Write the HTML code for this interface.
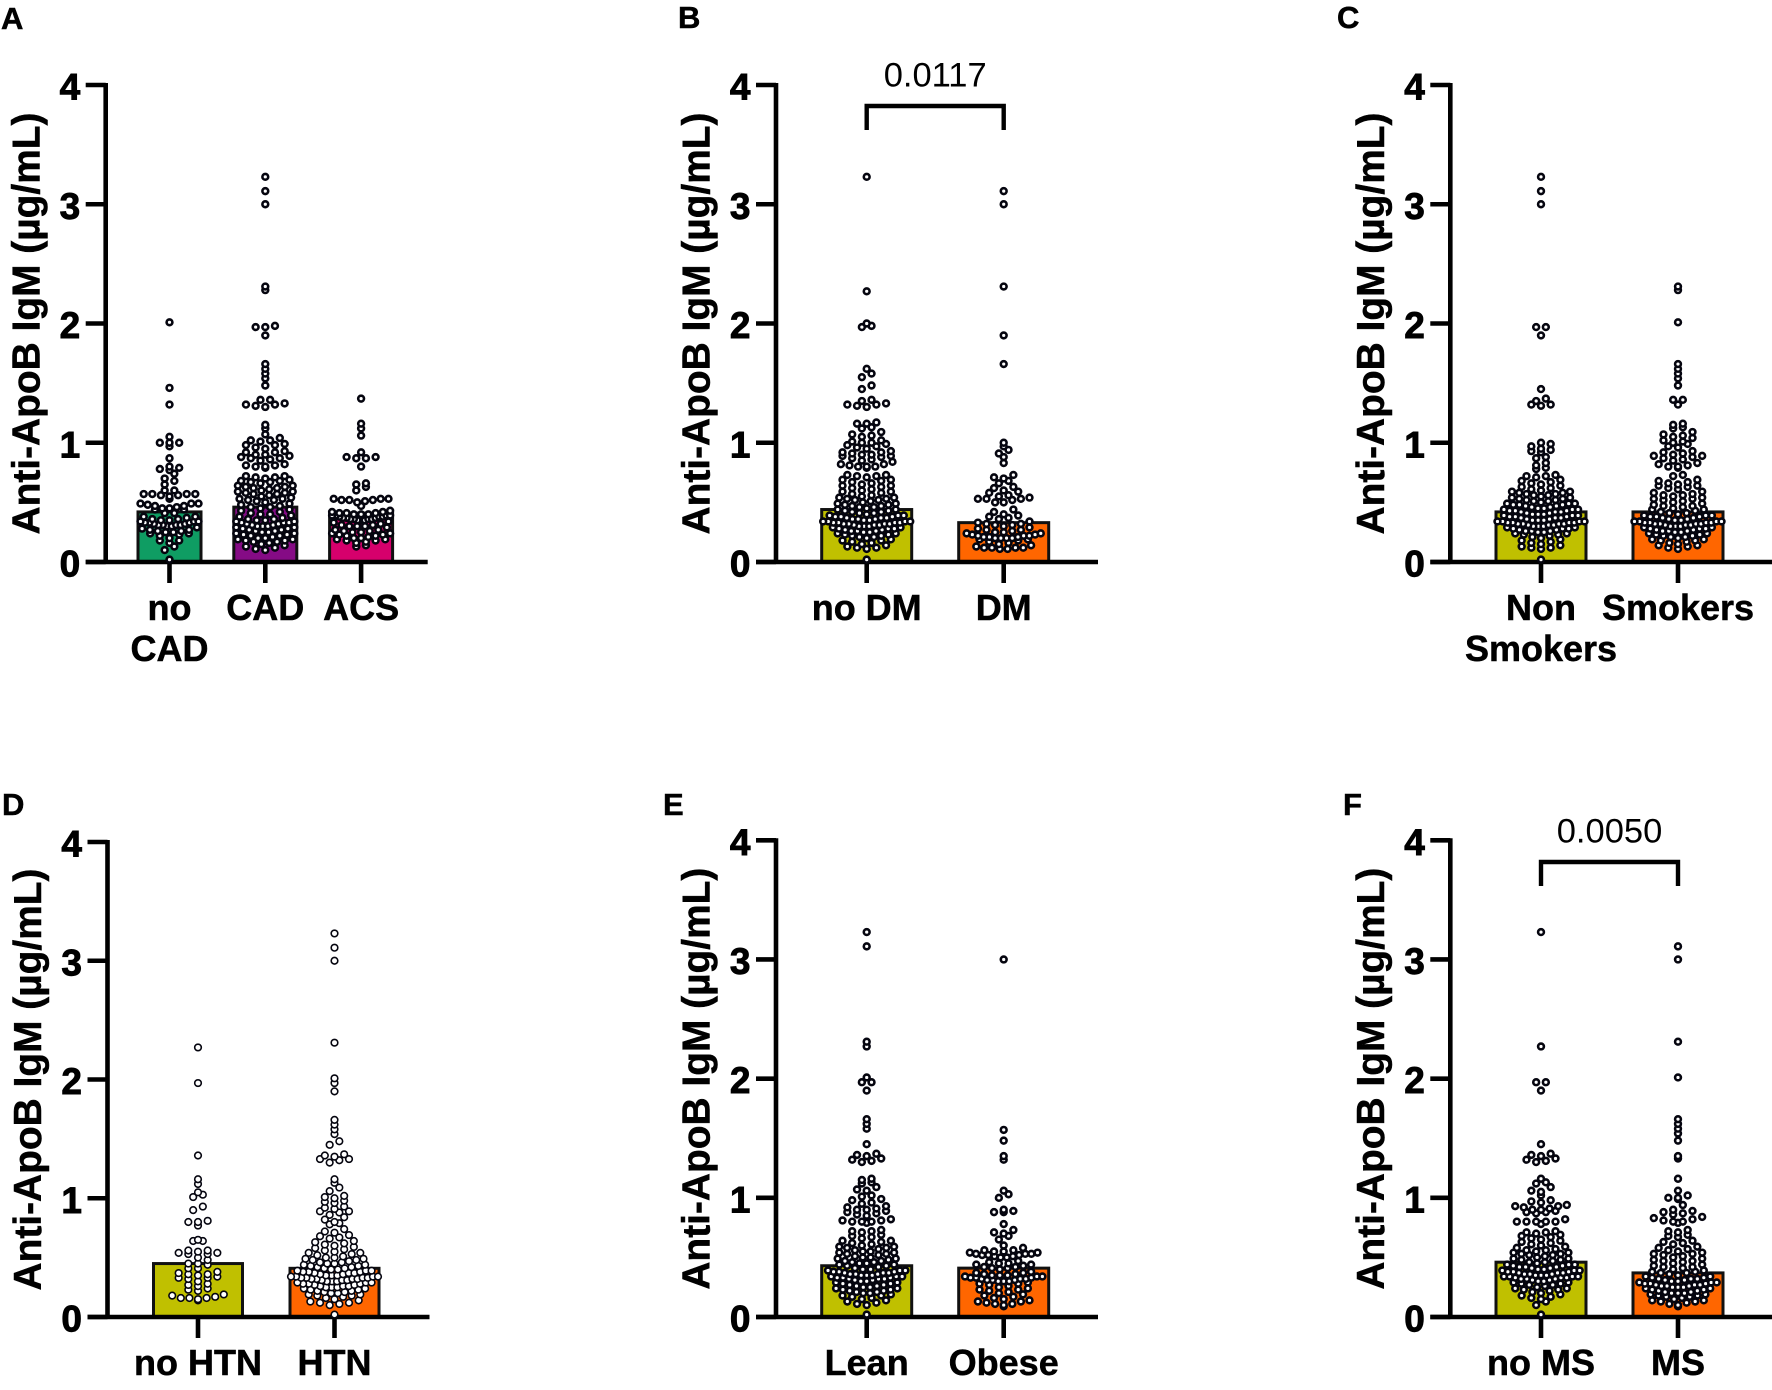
<!DOCTYPE html>
<html lang="en">
<head>
<meta charset="utf-8">
<title>Anti-ApoB IgM by patient group</title>
<style>
html,body{margin:0;padding:0;background:#fff;width:1772px;height:1390px;overflow:hidden}
svg{display:block}
text{font-family:"Liberation Sans",Arial,sans-serif;fill:#000}
</style>
</head>
<body>
<svg id="figure" xmlns="http://www.w3.org/2000/svg" width="1772" height="1390" viewBox="0 0 1772 1390"></svg>
<script>
// ---------- shared labels ----------
const yTitle = "Anti-ApoB IgM (µg/mL)";
const yTicks = [0, 1, 2, 3, 4];
const panelLetters = ["A", "B", "C", "D", "E", "F"];

// ---------- categories per panel (each entry = label lines) ----------
const categoriesA = [["no", "CAD"], ["CAD"], ["ACS"]];
const categoriesB = [["no DM"], ["DM"]];
const categoriesC = [["Non", "Smokers"], ["Smokers"]];
const categoriesD = [["no HTN"], ["HTN"]];
const categoriesE = [["Lean"], ["Obese"]];
const categoriesF = [["no MS"], ["MS"]];

// ---------- bar heights (group means) ----------
const meansA = [0.42, 0.46, 0.41];
const meansB = [0.44, 0.33];
const meansC = [0.42, 0.42];
const meansD = [0.45, 0.41];
const meansE = [0.43, 0.41];
const meansF = [0.46, 0.37];

// ---------- p values ----------
const pValueB = "0.0117";
const pValueF = "0.0050";

// ---------- observations per group ----------
const noCAD = [2.01,1.46,1.32,1.05,1.0,1.0,1.0,.97,.87,.8,.79,.78,.77,.74,.7,.68,.65,.6,.6,.57,.57,.57,.57,.56,.56,.55,.53,.49,.49,.49,.48,.47,.47,.46,.45,.45,.44,.44,.41,.41,.38,.38,.37,.36,.36,.35,.35,.34,.34,.34,.33,.33,.33,.32,.32,.31,.31,.31,.31,.3,.3,.29,.28,.27,.27,.26,.26,.25,.25,.24,.24,.23,.22,.2,.18,.18,.16,.13,.1,.02];
const CAD = [3.23,3.11,3.0,2.31,2.28,1.98,1.97,1.97,1.9,1.66,1.62,1.58,1.54,1.48,1.36,1.36,1.33,1.32,1.32,1.31,1.3,1.15,1.12,1.07,1.04,1.02,1.02,1.01,.99,.98,.98,.96,.95,.93,.92,.92,.9,.9,.89,.88,.87,.87,.86,.85,.82,.81,.81,.8,.8,.79,.72,.72,.71,.71,.7,.69,.68,.68,.67,.67,.66,.64,.64,.63,.63,.62,.62,.61,.6,.59,.59,.58,.58,.57,.57,.56,.55,.54,.53,.53,.52,.52,.51,.5,.49,.48,.47,.46,.46,.45,.44,.43,.42,.41,.4,.4,.39,.38,.37,.36,.36,.35,.35,.34,.34,.33,.33,.33,.32,.32,.31,.31,.3,.3,.3,.29,.29,.28,.28,.27,.27,.26,.26,.25,.25,.24,.24,.23,.23,.22,.22,.21,.2,.2,.19,.19,.18,.18,.17,.17,.16,.15,.14,.13,.12,.11,.1];
const ACS = [1.37,1.16,1.12,1.06,.92,.88,.88,.87,.87,.8,.66,.65,.63,.6,.53,.53,.53,.52,.52,.52,.51,.5,.47,.43,.42,.42,.41,.41,.41,.4,.4,.4,.39,.39,.39,.39,.38,.38,.38,.37,.37,.37,.36,.36,.36,.36,.35,.35,.35,.34,.33,.32,.31,.31,.3,.3,.3,.29,.27,.27,.26,.26,.25,.25,.24,.24,.23,.23,.22,.22,.21,.2,.2,.19,.19,.18,.18,.17,.16,.14,.13];

const noDM = [3.23,2.27,2.0,1.98,1.97,1.62,1.58,1.55,1.48,1.45,1.36,1.35,1.33,1.32,1.32,1.31,1.3,1.17,1.16,1.16,1.13,1.12,1.09,1.07,1.06,1.05,1.02,1.01,1.0,1.0,.99,.98,.97,.96,.95,.93,.92,.92,.91,.9,.9,.89,.89,.88,.87,.86,.85,.84,.82,.82,.81,.8,.8,.8,.79,.73,.73,.72,.72,.71,.69,.69,.68,.67,.66,.65,.64,.64,.63,.62,.61,.6,.59,.59,.58,.57,.56,.55,.54,.54,.53,.53,.52,.52,.51,.5,.49,.49,.48,.48,.47,.47,.46,.46,.45,.44,.44,.43,.43,.42,.42,.41,.41,.4,.39,.39,.39,.38,.38,.38,.37,.37,.37,.36,.36,.36,.35,.35,.34,.34,.34,.34,.33,.33,.33,.33,.32,.32,.32,.32,.31,.31,.31,.3,.3,.3,.29,.29,.28,.28,.28,.27,.27,.26,.26,.26,.25,.25,.24,.24,.23,.23,.22,.22,.21,.21,.2,.19,.18,.18,.17,.16,.15,.14,.13,.12,.12,.11,.02];
const DM = [3.11,3.0,2.31,1.9,1.66,1.0,.97,.94,.91,.88,.83,.73,.71,.7,.68,.66,.63,.62,.6,.59,.58,.56,.55,.54,.53,.53,.53,.52,.5,.5,.44,.42,.4,.39,.38,.37,.36,.34,.33,.32,.32,.31,.31,.3,.29,.28,.27,.27,.26,.25,.25,.24,.24,.23,.23,.22,.22,.22,.21,.21,.21,.2,.2,.2,.2,.19,.19,.18,.17,.16,.15,.14,.13,.12,.12,.12,.12,.11,.11];

const nonSmokers = [3.23,3.11,3.0,1.97,1.97,1.9,1.45,1.37,1.35,1.32,1.32,1.31,1.0,.99,.97,.95,.94,.93,.92,.88,.87,.83,.81,.79,.78,.73,.72,.72,.71,.69,.68,.67,.66,.65,.64,.63,.62,.61,.6,.59,.59,.58,.58,.57,.57,.56,.56,.55,.54,.54,.53,.53,.52,.52,.51,.51,.5,.49,.49,.49,.48,.48,.48,.47,.47,.46,.46,.45,.45,.44,.44,.44,.43,.43,.43,.42,.42,.42,.41,.41,.4,.4,.4,.39,.39,.39,.38,.38,.38,.37,.37,.37,.36,.36,.35,.35,.35,.34,.34,.34,.34,.33,.33,.33,.33,.32,.32,.32,.32,.31,.31,.31,.3,.3,.3,.29,.29,.28,.28,.28,.27,.27,.26,.26,.26,.25,.25,.24,.24,.23,.23,.22,.21,.2,.19,.18,.17,.16,.15,.14,.13,.12,.12,.11,.02];
const smokers = [2.31,2.28,2.01,1.66,1.62,1.58,1.54,1.48,1.36,1.36,1.32,1.16,1.15,1.13,1.12,1.09,1.07,1.06,1.05,1.04,1.02,1.01,1.0,.99,.97,.96,.93,.92,.91,.9,.89,.89,.88,.87,.86,.85,.83,.82,.81,.8,.8,.79,.73,.72,.69,.68,.67,.66,.65,.64,.64,.63,.62,.61,.59,.58,.57,.56,.56,.55,.54,.53,.53,.52,.51,.5,.49,.48,.47,.47,.46,.45,.44,.44,.43,.42,.41,.41,.4,.39,.39,.39,.38,.38,.38,.37,.37,.36,.36,.35,.35,.34,.34,.34,.34,.33,.33,.33,.33,.32,.32,.32,.32,.31,.31,.31,.3,.3,.3,.29,.29,.28,.28,.28,.27,.27,.26,.26,.26,.25,.25,.24,.24,.23,.23,.22,.22,.21,.21,.2,.19,.19,.18,.18,.17,.16,.15,.14,.14,.13,.12,.11];

const noHTN = [2.27,1.97,1.36,1.16,1.12,1.05,1.03,1.01,.93,.9,.81,.8,.8,.77,.65,.64,.64,.56,.56,.55,.54,.54,.53,.53,.5,.48,.45,.45,.44,.41,.41,.38,.37,.36,.36,.35,.34,.33,.33,.32,.3,.28,.27,.26,.24,.23,.22,.19,.18,.17,.16,.16,.16,.15,.14];
const HTN = [3.23,3.11,3.0,2.31,2.01,1.97,1.9,1.66,1.62,1.58,1.54,1.48,1.45,1.37,1.36,1.35,1.33,1.33,1.32,1.3,1.16,1.13,1.09,1.06,1.02,1.01,1.0,.98,.97,.96,.93,.92,.91,.89,.89,.88,.86,.84,.82,.8,.79,.78,.74,.72,.71,.69,.68,.67,.66,.64,.63,.62,.61,.6,.59,.58,.57,.56,.55,.54,.54,.53,.52,.51,.5,.5,.49,.49,.48,.48,.47,.46,.46,.45,.45,.44,.44,.43,.43,.42,.42,.41,.41,.4,.4,.39,.39,.39,.38,.38,.38,.37,.37,.37,.36,.36,.35,.35,.35,.34,.34,.34,.34,.33,.33,.33,.33,.32,.32,.32,.32,.31,.31,.31,.3,.3,.3,.29,.29,.29,.28,.28,.28,.27,.27,.26,.26,.26,.25,.25,.25,.24,.24,.23,.23,.22,.22,.21,.21,.2,.2,.19,.19,.18,.18,.17,.16,.15,.14,.13,.12,.12,.11,.1,.02];

const lean = [3.23,3.11,2.31,2.27,2.01,1.97,1.97,1.9,1.66,1.62,1.58,1.45,1.37,1.36,1.35,1.33,1.32,1.31,1.3,1.16,1.15,1.13,1.12,1.09,1.07,1.06,1.02,1.01,.99,.98,.96,.95,.93,.92,.91,.9,.9,.89,.88,.87,.86,.85,.82,.81,.81,.8,.8,.8,.79,.73,.72,.72,.71,.69,.68,.67,.66,.64,.64,.63,.62,.61,.6,.59,.59,.58,.58,.57,.56,.55,.55,.54,.54,.53,.53,.52,.51,.5,.5,.49,.49,.48,.47,.47,.46,.46,.45,.45,.44,.44,.43,.43,.42,.41,.4,.4,.39,.39,.39,.38,.38,.38,.37,.37,.37,.36,.36,.36,.35,.35,.35,.34,.34,.34,.33,.33,.33,.32,.32,.32,.31,.31,.3,.3,.29,.29,.28,.28,.27,.27,.26,.26,.25,.25,.24,.24,.23,.23,.22,.22,.21,.21,.2,.2,.19,.18,.18,.17,.16,.15,.14,.13,.12,.11,.1,.02];
const obese = [3.0,1.57,1.48,1.35,1.32,1.06,1.03,1.0,.9,.89,.88,.88,.78,.73,.71,.7,.68,.65,.6,.58,.56,.56,.55,.55,.54,.54,.53,.53,.53,.52,.52,.52,.51,.51,.5,.5,.47,.46,.45,.45,.44,.44,.43,.42,.42,.41,.41,.4,.38,.37,.37,.36,.36,.35,.35,.35,.34,.34,.34,.33,.33,.33,.32,.32,.32,.31,.31,.31,.3,.3,.3,.29,.28,.28,.27,.26,.25,.24,.23,.23,.22,.21,.2,.19,.18,.17,.16,.15,.14,.13,.13,.12,.11,.11,.1,.09];

const noMS = [3.23,2.27,1.97,1.97,1.9,1.45,1.37,1.36,1.35,1.33,1.32,1.31,1.3,1.16,1.13,1.12,1.09,1.06,1.05,1.02,.98,.97,.96,.94,.93,.93,.92,.91,.9,.9,.89,.88,.88,.87,.82,.8,.8,.8,.8,.8,.78,.72,.71,.71,.7,.69,.68,.67,.66,.65,.64,.63,.62,.61,.6,.59,.58,.57,.56,.56,.55,.54,.54,.53,.53,.52,.52,.51,.5,.49,.49,.48,.48,.47,.46,.46,.45,.44,.44,.44,.43,.43,.42,.42,.42,.41,.41,.4,.4,.39,.39,.39,.38,.38,.38,.37,.37,.37,.36,.36,.36,.35,.35,.35,.34,.34,.34,.34,.33,.33,.33,.32,.32,.32,.31,.31,.3,.3,.29,.29,.28,.28,.27,.27,.26,.25,.24,.24,.23,.23,.22,.21,.2,.19,.18,.17,.16,.15,.13,.1,.02];
const MS = [3.11,3.0,2.31,2.01,1.66,1.62,1.58,1.54,1.48,1.35,1.33,1.16,1.06,1.02,1.0,1.0,.99,.94,.9,.89,.88,.87,.86,.84,.83,.82,.81,.8,.8,.79,.73,.72,.71,.69,.68,.67,.64,.63,.62,.61,.59,.58,.57,.56,.55,.54,.53,.53,.52,.51,.5,.49,.48,.47,.47,.46,.45,.44,.43,.42,.42,.41,.4,.39,.38,.38,.37,.37,.36,.35,.34,.34,.33,.33,.32,.32,.32,.31,.31,.3,.3,.29,.29,.29,.28,.28,.28,.27,.27,.27,.26,.26,.26,.25,.25,.25,.24,.24,.23,.23,.22,.22,.21,.21,.2,.2,.2,.19,.19,.18,.18,.17,.17,.16,.15,.14,.14,.13,.13,.12,.11,.1,.09];

// ---------- drawing ----------
const svg = document.getElementById("figure");
const NS = "http://www.w3.org/2000/svg";

function node(tag, attrs, parent, txt) {
  const el = document.createElementNS(NS, tag);
  for (const k in attrs) el.setAttribute(k, attrs[k]);
  if (txt !== undefined) el.textContent = txt;
  parent.appendChild(el);
  return el;
}

const COL_STEP = 9.67;   // horizontal spacing of swarm columns
const ROW_BIN = 0.05;    // value height of one swarm row

// Prism-style swarm: values fall in rows, each row spreads symmetrically about the centre.
function swarmOffsets(values, maxCols) {
  const rows = {};
  values.forEach(function (v) {
    const k = Math.floor(v / ROW_BIN + 1e-6);
    (rows[k] = rows[k] || []).push(v);
  });
  const out = [];
  Object.keys(rows).forEach(function (k) {
    const vals = rows[k].slice().sort(function (a, b) { return a - b; });
    const n = vals.length;
    const cols = n <= 6 ? n : Math.min(maxCols, 6 + (n - 6) / 3);
    const spacing = n > 1 ? (cols - 1) * COL_STEP / (n - 1) : 0;
    // slots taken centre-outward so equal values stay symmetric
    const slots = [];
    for (let i = 0; i < n; i++) slots.push(i - (n - 1) / 2);
    slots.sort(function (a, b) { return Math.abs(a) - Math.abs(b) || a - b; });
    vals.forEach(function (v, i) { out.push({ v: v, off: slots[i] * spacing }); });
  });
  out.sort(function (a, b) { return a.v - b.v; });
  return out;
}

function drawPanel(cfg) {
  const g = node("g", {}, svg);
  
  

  const yScale = function (v) { return cfg.y0 - v * (cfg.y0 - cfg.y4) / 4; };
  const xScale = function (i) { return cfg.axisX + cfg.first + i * cfg.step; };

  const letter = node("text", { x: cfg.letterX, y: cfg.letterY, "font-size": 31, "font-weight": 700, stroke: "#000", "stroke-width": 0.5 }, g, cfg.letter);
  
  

  // bars
  cfg.means.forEach(function (m, i) {
    const bar = node("rect", {
      x: xScale(i) - cfg.barW / 2, y: yScale(m), width: cfg.barW, height: yScale(0) - yScale(m),
      fill: cfg.colors[i], stroke: "#111", "stroke-width": 3
    }, g);
    
    
  });

  // axes
  const yAxis = node("line", { x1: cfg.axisX, x2: cfg.axisX, y1: cfg.y4 - 2, y2: cfg.y0 + 2, stroke: "#000", "stroke-width": 4.6 }, g);
  
  
  const xAxis = node("line", { x1: cfg.axisX - 20, x2: cfg.axisX + 322, y1: cfg.y0, y2: cfg.y0, stroke: "#000", "stroke-width": 4.6 }, g);
  
  

  yTicks.forEach(function (t) {
    const tick = node("line", { x1: cfg.axisX - 20, x2: cfg.axisX, y1: yScale(t), y2: yScale(t), stroke: "#000", "stroke-width": 4.6 }, g);
    
    
    const lab = node("text", {
      x: cfg.axisX - 25.5, y: yScale(t) + 14.5, "text-anchor": "end",
      "font-size": 37, "font-weight": 700, stroke: "#000", "stroke-width": 0.9
    }, g, String(t));
    
    
  });

  const title = node("text", {
    transform: "translate(" + (cfg.axisX - 66.3) + "," + ((cfg.y0 + cfg.y4) / 2) + ") rotate(-90)",
    "text-anchor": "middle", "font-size": 38.9, "font-weight": 700, stroke: "#000", "stroke-width": 0.5
  }, g, yTitle);
  
  

  cfg.categories.forEach(function (lines, i) {
    const cx = xScale(i);
    const tick = node("line", { x1: cx, x2: cx, y1: cfg.y0, y2: cfg.y0 + 21, stroke: "#000", "stroke-width": 4.6 }, g);
    
    
    lines.forEach(function (line, j) {
      const lab = node("text", {
        x: cx, y: cfg.y0 + 58 + j * 41, "text-anchor": "middle",
        "font-size": 36, "font-weight": 700, stroke: "#000", "stroke-width": 0.5
      }, g, line);
      
      
    });
  });

  // points
  cfg.series.forEach(function (vals, i) {
    const group = node("g", {}, g);
    
    
    swarmOffsets(vals, cfg.maxCols).forEach(function (p) {
      const dot = node("circle", {
        cx: xScale(i) + p.off, cy: yScale(p.v), r: cfg.dotR,
        fill: "#fff", stroke: "#05050f", "stroke-width": cfg.dotStroke
      }, group);
      
      
    });
  });

  // significance bracket
  if (cfg.p) {
    const x1 = xScale(0), x2 = xScale(1);
    const br = node("polyline", {
      points: x1 + "," + cfg.brBottom + " " + x1 + "," + cfg.brTop + " " + x2 + "," + cfg.brTop + " " + x2 + "," + cfg.brBottom,
      fill: "none", stroke: "#000", "stroke-width": 4.4
    }, g);
    
    
    const pt = node("text", {
      x: (x1 + x2) / 2, y: cfg.brTop - 19.5, "text-anchor": "middle", "font-size": 34.5, "font-weight": 400
    }, g, cfg.p);
    
    
  }
}

const OLIVE = "#c0c000", ORANGE = "#ff6600";
const TOP_Y4 = 85, TOP_Y0 = 562, BOT_Y0 = 1317;

drawPanel({ letter: panelLetters[0], letterX: 1, letterY: 29, axisX: 105.7, y4: TOP_Y4, y0: TOP_Y0, first: 63.8, step: 95.8, barW: 63,
  means: meansA, categories: categoriesA, series: [noCAD, CAD, ACS], colors: ["#0f9d63", "#850b85", "#d6006c"],
  dotR: 2.9, dotStroke: 2.6, maxCols: 7 });
drawPanel({ letter: panelLetters[1], letterX: 678, letterY: 28, axisX: 776, y4: TOP_Y4, y0: TOP_Y0, first: 90.7, step: 137, barW: 90,
  means: meansB, categories: categoriesB, series: [noDM, DM], colors: [OLIVE, ORANGE],
  dotR: 2.9, dotStroke: 2.6, maxCols: 10, p: pValueB, brTop: 106, brBottom: 130 });
drawPanel({ letter: panelLetters[2], letterX: 1337, letterY: 28, axisX: 1450.3, y4: TOP_Y4, y0: TOP_Y0, first: 90.7, step: 137, barW: 90,
  means: meansC, categories: categoriesC, series: [nonSmokers, smokers], colors: [OLIVE, ORANGE],
  dotR: 2.9, dotStroke: 2.6, maxCols: 10 });
drawPanel({ letter: panelLetters[3], letterX: 2, letterY: 815, axisX: 107.5, y4: 842, y0: BOT_Y0, first: 90.5, step: 136.5, barW: 89,
  means: meansD, categories: categoriesD, series: [noHTN, HTN], colors: [OLIVE, ORANGE],
  dotR: 3.3, dotStroke: 1.6, maxCols: 10 });
drawPanel({ letter: panelLetters[4], letterX: 663, letterY: 815, axisX: 776, y4: 840.3, y0: BOT_Y0, first: 90.7, step: 137, barW: 90,
  means: meansE, categories: categoriesE, series: [lean, obese], colors: [OLIVE, ORANGE],
  dotR: 2.9, dotStroke: 2.6, maxCols: 10 });
drawPanel({ letter: panelLetters[5], letterX: 1343, letterY: 815, axisX: 1450.3, y4: 840.3, y0: BOT_Y0, first: 90.7, step: 137, barW: 90,
  means: meansF, categories: categoriesF, series: [noMS, MS], colors: [OLIVE, ORANGE],
  dotR: 2.9, dotStroke: 2.6, maxCols: 10, p: pValueF, brTop: 862, brBottom: 886 });
</script>
</body>
</html>
